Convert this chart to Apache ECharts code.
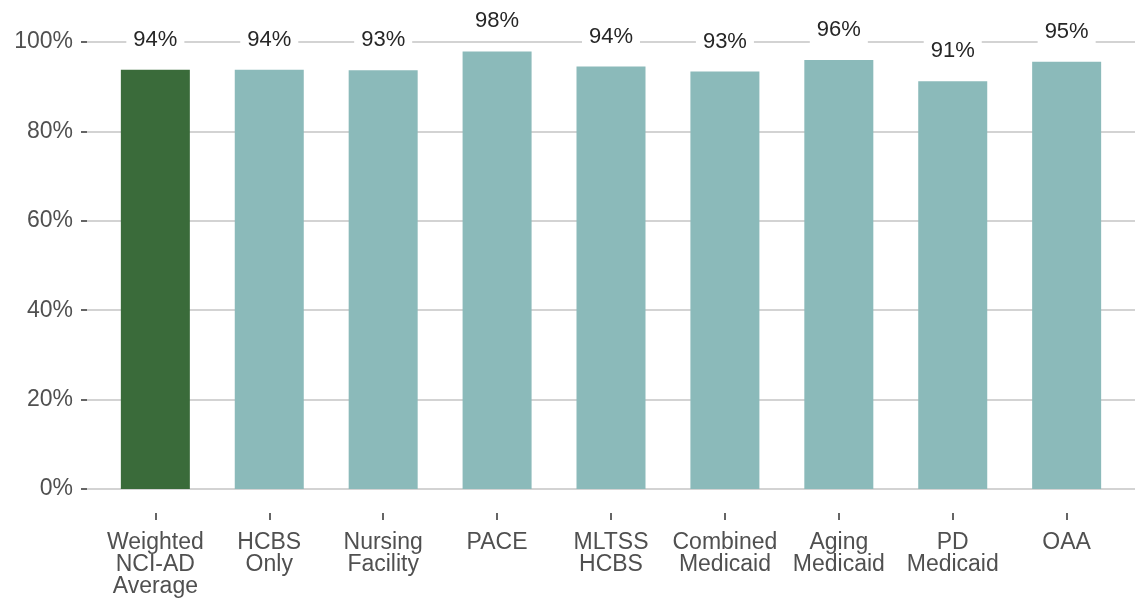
<!DOCTYPE html>
<html>
<head>
<meta charset="utf-8">
<script src="https://cdn.jsdelivr.net/npm/echarts@6/dist/echarts.min.js"></script>
<style>
  html, body { margin: 0; padding: 0; background: #fff; }
  #chart { width: 1135px; height: 607px; }
</style>
</head>
<body>
<div id="chart"></div>
<script>
// Data
const categories = [
    'Weighted\nNCI-AD\nAverage', 'HCBS\nOnly', 'Nursing\nFacility', 'PACE',
    'MLTSS\nHCBS', 'Combined\nMedicaid', 'Aging\nMedicaid', 'PD\nMedicaid', 'OAA'
];
const values = [93.8, 93.8, 93.7, 97.9, 94.5, 93.4, 96.0, 91.2, 95.6];
const valueLabels = ['94%', '94%', '93%', '98%', '94%', '93%', '96%', '91%', '95%'];
const yTicks = [0, 20, 40, 60, 80, 100];

const positions = categories.map((_, i) => i + 1);
const font = "'Liberation Sans', Arial, sans-serif";

const chart = echarts.init(document.getElementById('chart'));

// panel runs a little below zero (ggplot-style expansion), so the
// x axis ticks sit under the 0% line
chart.setOption({
    backgroundColor: '#ffffff',
    animation: false,
    grid: { left: 87, right: -9, top: 42, bottom: 94, containLabel: false },
    xAxis: {
        type: 'value',
        min: 0.4,
        max: 9.6,
        axisLine: { show: false, onZero: false },
        splitLine: { show: false },
        axisTick: {
            show: true,
            customValues: positions,
            length: 7,
            lineStyle: { color: '#333', width: 1.5 }
        },
        axisLabel: {
            customValues: positions,
            margin: 19,
            color: '#505050',
            fontFamily: font,
            fontSize: 23,
            lineHeight: 22,
            formatter: (v) => categories[Math.round(v) - 1] || ''
        }
    },
    yAxis: {
        type: 'value',
        min: -5.37,
        max: 100,
        axisLine: { show: false },
        axisTick: {
            show: true,
            customValues: yTicks,
            length: 6,
            lineStyle: { color: '#333', width: 1.5 }
        },
        axisLabel: {
            customValues: yTicks,
            margin: 14,
            color: '#505050',
            fontFamily: font,
            fontSize: 23,
            formatter: (v) => Math.round(v) + '%'
        },
        splitLine: { show: true, lineStyle: { color: '#c4c4c4', width: 1.5 } }
    },
    series: [{
        type: 'bar',
        barWidth: 69,
        data: positions.map((x, i) => [x, values[i]]),
        itemStyle: {
            color: (p) => p.dataIndex === 0 ? '#3a6b3a' : '#8bbaba'
        },
        label: {
            show: true,
            position: 'top',
            distance: 17,
            backgroundColor: '#ffffff',
            padding: [2, 7],
            color: '#262626',
            fontFamily: font,
            fontSize: 22,
            lineHeight: 22,
            formatter: (p) => valueLabels[p.dataIndex]
        }
    }]
});
</script>
</body>
</html>
